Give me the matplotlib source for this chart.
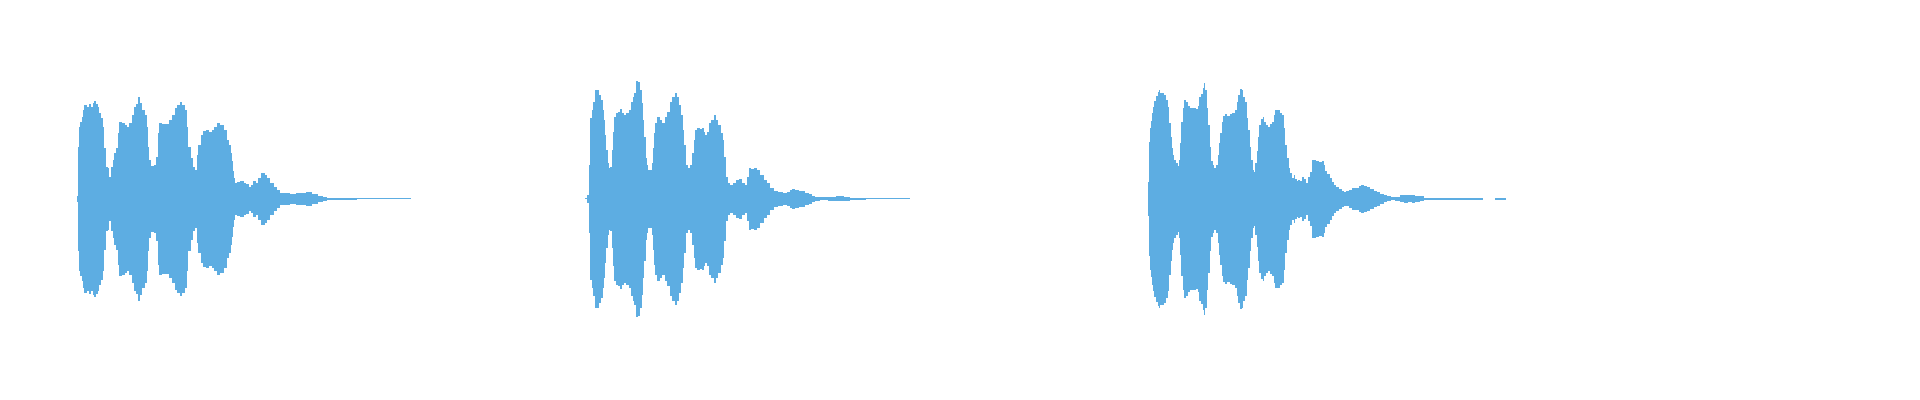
import numpy as np
import matplotlib
matplotlib.use("Agg")
import matplotlib.pyplot as plt

# envelope of three recordings: time position and peak amplitude (symmetric)
clip1_t = [77, 78, 79, 81, 82, 83, 85, 88, 90, 92,
           93, 95, 97, 98, 100, 102, 103, 105, 107, 108,
           110, 112, 113, 115, 117, 118, 120, 123, 126, 128,
           130, 133, 134, 137, 139, 141, 143, 146, 147, 148,
           149, 152, 155, 157, 158, 160, 163, 167, 170, 173,
           176, 178, 181, 183, 186, 187, 189, 192, 194, 196,
           197, 199, 202, 204, 207, 210, 213, 215, 218, 222,
           225, 228,
           230, 231.5, 232.5, 233.5, 234.5, 236, 238, 242, 245, 247,
           250, 252, 254, 257, 259, 262, 263, 266, 268, 272,
           275, 278, 282, 287, 292, 300, 303, 308, 315, 320,
           325, 328, 337, 350, 363, 411]
clip1_a = [3, 52, 72, 77, 82, 89, 94, 92, 95, 92,
           96, 98, 95, 92, 86, 81, 72, 51, 32, 31,
           22, 32, 39, 46, 51, 66, 77, 76, 74, 72,
           76, 84, 92, 95, 102, 96, 89, 84, 72, 52,
           39, 33, 34, 42, 66, 76, 75, 75, 79, 84,
           91, 94, 97, 94, 89, 72, 52, 41, 32, 29,
           44, 54, 64, 68, 69, 67, 69, 72, 76, 74,
           69, 59,
           54, 46, 38, 28, 21, 16, 17, 18, 16, 15,
           12, 14, 18, 16, 21, 26, 26, 24, 21, 16,
           12, 9, 6, 6, 5, 6, 6, 7, 5, 3,
           2, 1, 0.7, 1, 0.5, 0.5]

clip2_t = [585, 588, 589, 591, 592, 594, 596, 598, 600, 602,
           603, 604, 605, 607, 608, 609, 611, 612, 613, 615,
           617, 619, 621, 623, 625, 627, 630, 632, 633, 635,
           637, 639, 641, 642, 643, 645, 646, 647, 649, 651,
           652, 653, 654, 656, 658, 661, 663, 666, 668, 671,
           673, 676, 678, 680, 682, 683, 685, 687, 689, 691,
           693, 694, 696, 698, 701, 703, 704, 706, 708, 710,
           712, 715, 717, 719, 722, 723, 725, 727, 728, 732,
           734, 737, 740, 743, 746, 748, 749, 752, 755, 758,
           762, 765, 768, 772, 775, 780, 785, 788, 791, 793,
           797, 800, 803, 807, 810, 813, 817, 823, 832, 840,
           847, 853, 862, 870, 910]
clip2_a = [0.5, 4, 34, 81, 89, 97, 109, 109, 104, 99,
           89, 79, 64, 49, 36, 31, 32, 49, 67, 82,
           86, 87, 90, 86, 84, 86, 89, 97, 102, 106,
           118, 117, 109, 96, 79, 62, 41, 34, 29, 29,
           36, 51, 66, 76, 82, 79, 76, 82, 87, 97,
           102, 106, 102, 94, 84, 69, 54, 34, 31, 34,
           46, 59, 69, 71, 70, 71, 67, 64, 67, 76,
           79, 84, 79, 74, 66, 59, 42, 22, 16, 14,
           16, 19, 20, 16, 14, 22, 31, 30, 31, 29,
           24, 19, 16, 11, 8, 7, 6, 7, 9, 10,
           9, 8, 8, 6, 5, 3, 2, 1.5, 2, 2.5,
           2, 1.2, 0.8, 0.5, 0.5]

clip3_t = [1148, 1149, 1150, 1151, 1152, 1153, 1155, 1157, 1158, 1159,
           1161, 1163, 1165, 1167, 1168, 1170, 1171, 1172, 1173, 1175,
           1177, 1178, 1179, 1180, 1182, 1183, 1185, 1187, 1188, 1191,
           1193, 1195, 1197, 1198, 1200, 1202, 1203, 1204, 1206, 1207,
           1209, 1210, 1212, 1213, 1215, 1217, 1218, 1219, 1221, 1222,
           1223, 1226, 1228, 1231, 1233, 1236, 1237, 1239, 1241, 1242,
           1244, 1246, 1247, 1249, 1250, 1252, 1253, 1254, 1256, 1257,
           1258, 1260, 1262, 1263, 1265, 1267, 1268, 1271, 1273, 1274,
           1276, 1278, 1281, 1283, 1284, 1286, 1288, 1289, 1291, 1293,
           1294, 1296, 1297, 1299, 1301, 1303, 1305, 1307, 1309, 1311,
           1312, 1314, 1317, 1320, 1323, 1324, 1326, 1328, 1331, 1333,
           1335, 1337, 1340, 1343, 1345, 1347, 1350, 1353, 1357, 1360,
           1362, 1365, 1368, 1372, 1375, 1378, 1382, 1385, 1389, 1393,
           1397, 1402, 1406, 1410, 1413, 1417, 1422, 1425, 1430, 1445,
           1450, 1453, 1460, 1463, 1470, 1483, 1489, 1495, 1506]
clip3_a = [17, 57, 71, 78, 86, 92, 98, 103, 107, 109,
           106, 106, 104, 99, 92, 76, 62, 51, 44, 39,
           36, 33, 39, 56, 77, 91, 99, 97, 93, 91,
           91, 91, 90, 93, 102, 105, 111, 116, 109, 91,
           74, 52, 38, 34, 31, 34, 44, 56, 66, 77,
           83, 85, 83, 85, 86, 89, 97, 104, 110, 109,
           102, 97, 81, 69, 52, 39, 29, 27, 36, 48,
           62, 74, 80, 82, 77, 74, 72, 75, 77, 84,
           89, 89, 86, 84, 71, 54, 41, 31, 26, 21,
           24, 20, 18, 19, 18, 22, 20, 16, 22, 27,
           39, 39, 38, 37, 38, 34, 28, 25, 21, 17,
           14, 12, 10, 8, 7, 7.5, 9, 11, 11, 13,
           14, 13, 12, 10, 8, 7, 5, 3.5, 2.5, 1.5,
           2, 3.5, 4, 3.5, 3.7, 3, 2.5, 1.3, 0.7, 0.7,
           1, 1.3, 1.3, 1, 0.7, 0.7, np.nan, 0.7, 0.7]

clips = [(clip1_t, clip1_a), (clip2_t, clip2_a), (clip3_t, clip3_a)]
wave_color = "#5DADE2"

fig = plt.figure(figsize=(19.2, 4), dpi=100)
ax = fig.add_axes([0, 0, 1, 1])

for t, a in clips:
    t = np.asarray(t, dtype=float)
    a = np.asarray(a, dtype=float)
    ax.fill_between(t, -a, a, step="mid", color=wave_color, linewidth=0)

ax.set_xlim(0, 1920)
ax.set_ylim(-201, 199)
ax.axis("off")

fig.savefig("out.png", dpi=100, facecolor="white")
